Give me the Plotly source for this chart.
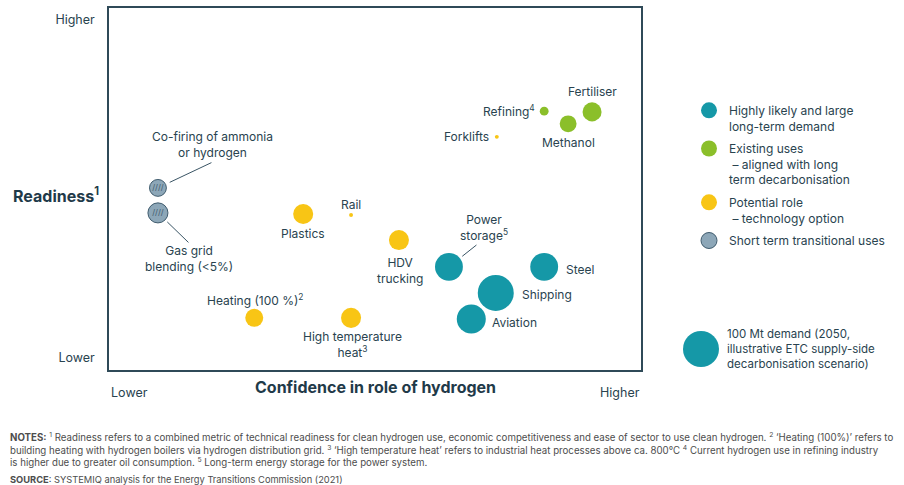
import plotly.graph_objects as go

# ---- data -------------------------------------------------------------
sectors = ["Power storage", "Steel", "Shipping", "Aviation",
           "Refining", "Fertiliser", "Methanol",
           "Heating (100 %)", "Plastics", "Rail", "HDV trucking",
           "High temperature heat", "Forklifts",
           "Co-firing of ammonia or hydrogen", "Gas grid blending (<5%)"]
groups = ["large", "large", "large", "large",
          "existing", "existing", "existing",
          "potential", "potential", "potential", "potential",
          "potential", "potential",
          "transitional", "transitional"]
confidence = [6.39, 8.18, 7.27, 6.81,
              8.18, 9.08, 8.63,
              2.73, 3.65, 4.55, 5.45, 4.55, 7.29,
              0.92, 0.92]
readiness = [2.85, 2.85, 2.13, 1.41,
             7.15, 7.13, 6.80,
             1.44, 4.31, 4.28, 3.59, 1.44, 6.44,
             5.03, 4.34]
demand_mt = [60, 60, 100, 65,
             6, 28, 22,
             25, 31, 1.2, 31, 31, 1.2,
             22, 31]
reference_mt = 100

group_order = ["large", "existing", "potential", "transitional"]
group_names = {
    "large": "Highly likely and large<br>long-term demand",
    "existing": "Existing uses<br> – aligned with long<br>term decarbonisation",
    "potential": "Potential role<br> – technology option",
    "transitional": "Short term transitional uses",
}

x_ticks = ["Lower", "Higher"]
y_ticks = ["Lower", "Higher"]

# ---- styling ----------------------------------------------------------
W, H = 904, 485
FONT = "Inter"
TXT = "#29434f"
DARK = "#1f3a49"
colors = {"large": "#1598a7", "existing": "#8bbf2a",
          "potential": "#f8c515", "transitional": "#8da7b8"}
SIZEREF = 2 * 100 / 36 ** 2   # 100 Mt -> 36 px circle (area scaling)


def px_x(p):
    return p / W


def px_y(p):
    return 1 - p / H


labels = {
    "Power storage": ("Power<br>storage<sup>5</sup>", 35, -39, "center"),
    "Steel": ("Steel", 20, 3, "left"),
    "Shipping": ("Shipping", 24, 2, "left"),
    "Aviation": ("Aviation", 19, 4, "left"),
    "Refining": ("Refining<sup>4</sup>", -7, 0, "right"),
    "Fertiliser": ("Fertiliser", 0, -20, "center"),
    "Methanol": ("Methanol", 0, 19, "center"),
    "Heating (100 %)": ("Heating (100 %)<sup>2</sup>", 1, -18, "center"),
    "Plastics": ("Plastics", 0, 20, "center"),
    "Rail": ("Rail", 0, -11, "center"),
    "HDV trucking": ("HDV<br>trucking", 1, 30, "center"),
    "High temperature heat": ("High temperature<br>heat<sup>3</sup>", 1, 27, "center"),
    "Forklifts": ("Forklifts", -6, 0, "right"),
    "Co-firing of ammonia or hydrogen": ("Co-firing of ammonia<br>or hydrogen", 55, -43, "center"),
    "Gas grid blending (<5%)": ("Gas grid<br>blending (&lt;5%)", 31, 46, "center"),
}
# leader lines: tail offset (px) and gap from the bubble centre
leaders = {
    "Co-firing of ammonia or hydrogen": (55, -26, 13),
    "Gas grid blending (<5%)": (32, 31, 13),
    "Power storage": (29, -23, 17),
}

fig = go.Figure()

for g in group_order:
    idx = [i for i, gg in enumerate(groups) if gg == g]
    hatched = g == "transitional"
    fig.add_trace(go.Scatter(
        x=[confidence[i] for i in idx],
        y=[readiness[i] for i in idx],
        mode="markers",
        name=group_names[g],
        legendgroup=g,
        marker=dict(
            size=[demand_mt[i] for i in idx], sizemode="area", sizeref=SIZEREF,
            color=colors[g],
            line=dict(color="#3f5b6d" if hatched else colors[g], width=1 if hatched else 0),
            opacity=1,
        ),
        cliponaxis=False,
        hovertext=[sectors[i] for i in idx],
        hoverinfo="text",
    ))
    if hatched:
        fig.add_trace(go.Scatter(
            x=[confidence[i] for i in idx],
            y=[readiness[i] for i in idx],
            mode="text", text=["////"] * len(idx),
            textfont=dict(family=FONT, size=8, color="#3f5b6d"),
            showlegend=False, hoverinfo="skip",
        ))

# size key: a single 100 Mt bubble on its own hidden axes
fig.add_trace(go.Scatter(
    x=[0], y=[0], xaxis="x2", yaxis="y2", mode="markers",
    marker=dict(size=[reference_mt], sizemode="area", sizeref=SIZEREF,
                color=colors["large"], line=dict(width=0), opacity=1),
    cliponaxis=False, showlegend=False, hoverinfo="skip",
))

annotations = []
for i, s in enumerate(sectors):
    text, dx, dy, anchor = labels[s]
    annotations.append(dict(
        x=confidence[i], y=readiness[i], xref="x", yref="y",
        text=text, showarrow=False, xshift=dx, yshift=-dy,
        xanchor=anchor, yanchor="middle", align="center",
        font=dict(family=FONT, size=12, color=TXT),
    ))
    if s in leaders:
        ax, ay, gap = leaders[s]
        annotations.append(dict(
            x=confidence[i], y=readiness[i], xref="x", yref="y",
            text=" ", showarrow=True, ax=ax, ay=ay, arrowhead=0,
            arrowwidth=1, arrowcolor="#3a5565", standoff=gap,
            font=dict(size=1),
        ))

# axis titles
annotations.append(dict(
    xref="x domain", yref="y domain", x=0, y=0.483, xanchor="right", yanchor="middle",
    xshift=-8, text="<b>Readiness<sup>1</sup></b>", showarrow=False,
    font=dict(family=FONT, size=16, color=DARK)))
annotations.append(dict(
    xref="x domain", yref="y domain", x=0.5, y=0, xanchor="center", yanchor="middle",
    yshift=-17, text="<b>Confidence in role of hydrogen</b>", showarrow=False,
    font=dict(family=FONT, size=16, color=DARK)))

# size key text
annotations.append(dict(
    xref="x2", yref="y2", x=0, y=0, xanchor="left", yanchor="middle", xshift=24,
    align="left", showarrow=False,
    text="100 Mt demand (2050,<br>illustrative ETC supply-side<br>decarbonisation scenario)",
    font=dict(family=FONT, size=11.5, color=TXT)))

# notes and source
notes = ("<b>NOTES:</b> <sup>1</sup> Readiness refers to a combined metric of technical readiness for clean "
         "hydrogen use, economic competitiveness and ease of sector to use clean hydrogen. "
         "<sup>2</sup> ‘Heating (100%)’ refers to<br>building heating with hydrogen boilers via hydrogen "
         "distribution grid. <sup>3</sup> ‘High temperature heat’ refers to industrial heat processes above "
         "ca. 800°C <sup>4</sup> Current hydrogen use in refining industry<br>is higher due to greater oil "
         "consumption. <sup>5</sup> Long-term energy storage for the power system.")
annotations.append(dict(
    xref="paper", yref="paper", x=px_x(8), y=px_y(428), xanchor="left", yanchor="top",
    align="left", showarrow=False, text=notes,
    font=dict(family=FONT, size=9.7, color="#4d4d4d")))
annotations.append(dict(
    xref="paper", yref="paper", x=px_x(8), y=px_y(479), xanchor="left", yanchor="middle",
    align="left", showarrow=False,
    text="<b>SOURCE</b>: SYSTEMIQ analysis for the Energy Transitions Commission (2021)",
    font=dict(family=FONT, size=9.3, color="#4d4d4d")))

axis_line = dict(showgrid=False, zeroline=False, showline=True, mirror=True,
                 linecolor="#2f4a58", linewidth=1.5, ticks="", fixedrange=True)

fig.update_layout(
    width=W, height=H,
    margin=dict(l=0, r=0, t=0, b=0),
    paper_bgcolor="white", plot_bgcolor="white",
    font=dict(family=FONT, size=12, color=TXT),
    xaxis=dict(domain=[px_x(109), px_x(641)], range=[0, 10], tickvals=[0.38, 9.6],
               ticktext=x_ticks, ticklabelstandoff=10, automargin=False,
               tickfont=dict(size=12.5, color=TXT), **axis_line),
    yaxis=dict(domain=[px_y(370), px_y(8)], range=[0, 10], tickvals=[0.33, 9.67],
               ticktext=y_ticks, ticklabelstandoff=10, automargin=False,
               tickfont=dict(size=12.5, color=TXT), **axis_line),
    xaxis2=dict(domain=[px_x(681), px_x(721)], range=[-1, 1], visible=False,
                fixedrange=True, anchor="y2"),
    yaxis2=dict(domain=[px_y(369), px_y(329)], range=[-1, 1], visible=False,
                fixedrange=True, anchor="x2"),
    showlegend=True,
    legend=dict(x=px_x(689), y=px_y(96), xanchor="left", yanchor="top",
                valign="top", itemsizing="trace", tracegroupgap=4,
                traceorder="grouped",
                font=dict(family=FONT, size=12, color=TXT), bgcolor="rgba(0,0,0,0)"),
    annotations=annotations,
)

fig.write_html("out.html")
